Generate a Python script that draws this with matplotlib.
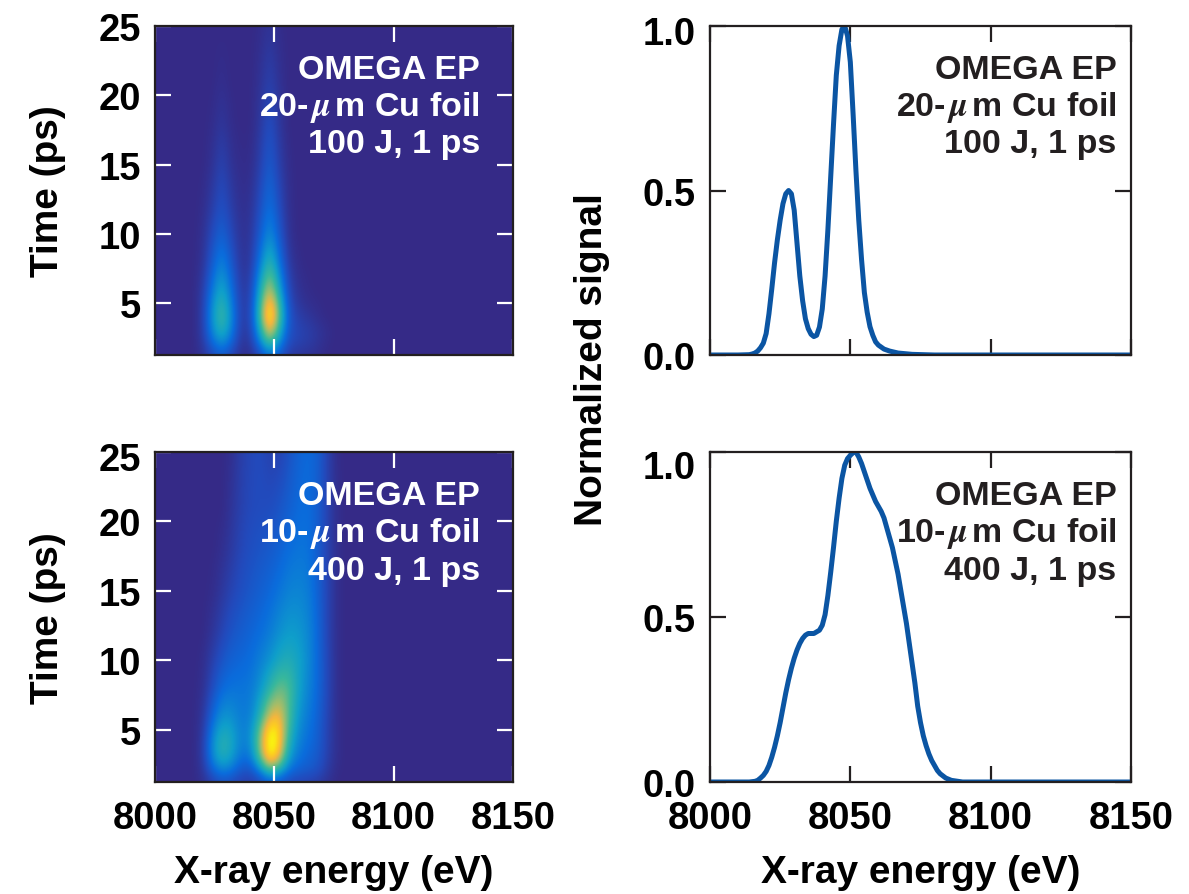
import matplotlib
matplotlib.use("Agg")
import matplotlib.pyplot as plt
import numpy as np
from matplotlib.colors import LinearSegmentedColormap
from matplotlib.transforms import ScaledTranslation

plt.rcParams["font.family"] = ["Liberation Sans", "DejaVu Sans"]
plt.rcParams["font.weight"] = "bold"
plt.rcParams["mathtext.fontset"] = "stix"

FIG_W, FIG_H = 1189, 895

times = [1.25, 2, 3, 4, 5, 6, 8, 10, 12, 15, 18, 21, 25]
energies = [8016, 8020, 8024, 8028, 8032, 8036, 8040, 8044, 8048, 8052, 8056, 8060, 8064, 8068, 8072, 8076, 8080]

map_20um = [
    [0, .03, .11, .18, .10, .02, .02, .11, .25, .16, .06, .04, .03, .02, 0, 0, 0],
    [0, .05, .21, .32, .20, .04, .05, .27, .52, .32, .12, .09, .07, .04, .01, 0, 0],
    [0, .07, .32, .48, .30, .06, .08, .42, .82, .47, .16, .10, .08, .05, .02, 0, 0],
    [0, .07, .35, .54, .33, .07, .10, .54, 1.0, .60, .17, .08, .05, .02, 0, 0, 0],
    [0, .07, .33, .50, .30, .07, .09, .50, .90, .54, .14, .05, .02, .01, 0, 0, 0],
    [0, .06, .27, .43, .25, .06, .08, .42, .74, .42, .11, .03, .01, 0, 0, 0, 0],
    [0, .03, .18, .31, .17, .04, .05, .27, .50, .27, .06, .01, 0, 0, 0, 0, 0],
    [0, .02, .12, .21, .11, .03, .04, .18, .34, .18, .03, 0, 0, 0, 0, 0, 0],
    [0, .01, .07, .15, .07, .02, .03, .13, .26, .13, .02, 0, 0, 0, 0, 0, 0],
    [0, 0, .03, .10, .03, .01, .01, .08, .19, .08, .01, 0, 0, 0, 0, 0, 0],
    [0, 0, .01, .05, .01, 0, 0, .05, .14, .05, 0, 0, 0, 0, 0, 0, 0],
    [0, 0, 0, .02, 0, 0, 0, .03, .09, .03, 0, 0, 0, 0, 0, 0, 0],
    [0, 0, 0, 0, 0, 0, 0, .01, .04, .01, 0, 0, 0, 0, 0, 0, 0],
]

map_10um = [
    [0, .02, .08, .14, .12, .08, .07, .10, .18, .15, .11, .09, .08, .06, .03, 0, 0],
    [0, .04, .20, .30, .26, .16, .14, .28, .52, .42, .25, .20, .18, .15, .07, .01, 0],
    [0, .06, .32, .47, .40, .26, .27, .60, .97, .80, .40, .27, .22, .18, .09, .02, 0],
    [0, .06, .34, .50, .44, .30, .33, .68, 1.0, .90, .48, .31, .25, .20, .10, .02, 0],
    [0, .05, .29, .44, .41, .30, .33, .62, .96, .90, .54, .34, .27, .21, .10, .02, 0],
    [0, .04, .22, .36, .35, .29, .30, .48, .76, .82, .58, .37, .29, .22, .11, .02, 0],
    [0, .02, .13, .24, .27, .27, .28, .36, .50, .62, .58, .42, .32, .24, .12, .02, 0],
    [0, .01, .08, .16, .21, .23, .25, .30, .36, .44, .47, .42, .34, .24, .12, .02, 0],
    [0, 0, .04, .10, .16, .19, .22, .25, .29, .35, .39, .38, .33, .24, .11, .02, 0],
    [0, 0, .01, .05, .10, .14, .17, .20, .23, .27, .31, .32, .30, .22, .11, .02, 0],
    [0, 0, 0, .02, .06, .11, .14, .16, .18, .21, .25, .27, .27, .20, .10, .02, 0],
    [0, 0, 0, 0, .04, .09, .12, .13, .13, .16, .20, .24, .25, .20, .10, .02, 0],
    [0, 0, 0, 0, .02, .08, .11, .13, .09, .09, .15, .21, .24, .21, .10, .01, 0],
]

curve_20um_x = [8000, 8010, 8014, 8015, 8016, 8017, 8018, 8019, 8020, 8021, 8022, 8023, 8024, 8025, 8026, 8027,
                8028, 8029, 8030, 8031, 8032, 8033, 8034, 8035, 8036, 8037, 8038, 8039, 8040, 8041, 8042, 8043,
                8044, 8045, 8046, 8047, 8048, 8049, 8050, 8051, 8052, 8053, 8054, 8055, 8056, 8057, 8058, 8059,
                8060, 8062, 8064, 8067, 8072, 8080, 8150]
curve_20um_y = [0, 0, .001, .003, .006, .012, .022, .036, .065, .125, .20, .28, .35, .41, .46, .49,
                .50, .49, .44, .34, .24, .165, .11, .08, .063, .056, .06, .085, .14, .24, .38, .54,
                .70, .85, .94, .99, 1.0, .97, .89, .73, .56, .41, .29, .19, .13, .086, .06, .04,
                .03, .018, .012, .006, .002, 0, 0]

curve_10um_x = [8000, 8014, 8016, 8017, 8018, 8019, 8020, 8021, 8022, 8023, 8024, 8025, 8026, 8027, 8028, 8029,
                8030, 8031, 8032, 8033, 8034, 8035, 8036, 8037, 8038, 8039, 8040, 8041, 8042, 8043, 8044, 8045,
                8046, 8047, 8048, 8049, 8050, 8051, 8052, 8053, 8054, 8055, 8056, 8057, 8058, 8059, 8060, 8061,
                8062, 8063, 8064, 8065, 8066, 8067, 8068, 8069, 8070, 8071, 8072, 8073, 8074, 8075, 8076, 8077,
                8078, 8079, 8080, 8081, 8082, 8084, 8086, 8090, 8150]
curve_10um_y = [0, 0, .002, .005, .012, .02, .032, .05, .075, .105, .14, .18, .225, .27, .31, .345,
                .375, .40, .42, .435, .445, .45, .45, .45, .455, .46, .475, .507, .565, .635, .71, .79,
                .86, .92, .96, .98, .99, .998, 1.0, .985, .965, .94, .915, .89, .87, .85, .835, .82,
                .80, .77, .74, .71, .67, .63, .58, .53, .48, .42, .36, .30, .23, .18, .14, .11,
                .085, .065, .05, .035, .025, .012, .005, 0, 0]

time_ticks = [5, 10, 15, 20, 25]
signal_ticks = [0.0, 0.5, 1.0]
energy_ticks = [8000, 8050, 8100, 8150]

labels_20um = "OMEGA EP\n20-$\\,\\mu\\,$m Cu foil\n100 J, 1 ps"
labels_10um = "OMEGA EP\n10-$\\,\\mu\\,$m Cu foil\n400 J, 1 ps"

parula = LinearSegmentedColormap.from_list("parula_like", [
    (0.0, "#352a87"), (0.12, "#2349bb"), (0.25, "#0a6cdc"), (0.40, "#0f9fca"), (0.55, "#38b89c"),
    (0.70, "#a3bd6a"), (0.80, "#f2b63f"), (0.88, "#fdcf1f"), (0.96, "#f8fa0d"), (1.0, "#f8fa0d")])


def make_axes(left, top, right, bottom):
    return plt.axes([left / FIG_W, 1 - bottom / FIG_H, (right - left) / FIG_W, (bottom - top) / FIG_H])


def fine_map(table):
    # coarse readings onto an even grid for imshow
    table = np.array(table)
    e_grid = np.arange(8000, 8152, 4)
    t_grid = np.arange(0.75, 25.5, 0.5)
    rows = np.array([np.interp(e_grid, energies, r, left=0, right=0) for r in table])
    z = np.array([np.interp(t_grid, times, rows[:, j]) for j in range(len(e_grid))]).T
    z[1:-1] = 0.25 * z[:-2] + 0.5 * z[1:-1] + 0.25 * z[2:]
    return e_grid, t_grid, z / z.max()


def style_axes(ax, color, xlabels):
    ax.set_xlim(8000, 8150)
    ax.set_xticks(energy_ticks)
    ax.tick_params(axis="both", which="major", direction="in", top=True, right=True, length=11.5,
                   width=1.6, color=color, labelsize=27.5)
    ax.tick_params(axis="x", pad=13)
    ax.tick_params(axis="y", pad=10)
    if xlabels:
        ax.set_xlabel("X-ray energy (eV)", fontsize=28, fontweight="bold")
        ax.xaxis.set_label_coords(0.5, -72 / 330)
    else:
        ax.set_xticklabels([])
    for s in ax.spines.values():
        s.set_linewidth(1.6)
        s.set_color("#231f20")


def shift_top_label(ax, px):
    lab = ax.get_yticklabels()[-1]
    lab.set_transform(lab.get_transform() + ScaledTranslation(0, -px / 100, ax.figure.dpi_scale_trans))


def heat_panel(box, table, txt, xlabels, top_shift):
    ax = make_axes(*box)
    e_grid, t_grid, z = fine_map(table)
    ax.imshow(z, origin="lower", aspect="auto", cmap=parula, vmin=0, vmax=1, interpolation="bicubic",
              extent=[e_grid[0] - 2, e_grid[-1] + 2, t_grid[0] - 0.25, t_grid[-1] + 0.25])
    ax.set_ylim(1.25, 25)
    ax.set_yticks(time_ticks)
    style_axes(ax, "white", xlabels)
    shift_top_label(ax, top_shift)
    ax.set_ylabel("Time (ps)", fontsize=28, fontweight="bold")
    ax.yaxis.set_label_coords(-0.248, 0.5)
    ax.text(0.908, 0.915, txt, transform=ax.transAxes, ha="right", va="top", color="white", fontsize=24.5,
            fontweight="bold", linespacing=1.17)
    return ax


def line_panel(box, x, y, txt, xlabels, top_shift):
    ax = make_axes(*box)
    ax.plot(x, y, color="#0b55a3", linewidth=3.6)
    ax.set_ylim(0, 1.0)
    ax.set_yticks(signal_ticks)
    ax.set_yticklabels(["0.0", "0.5", "1.0"])
    style_axes(ax, "#231f20", xlabels)
    shift_top_label(ax, top_shift)
    ax.text(0.965, 0.915, txt, transform=ax.transAxes, ha="right", va="top", color="#231f20", fontsize=24.5,
            fontweight="bold", linespacing=1.17)
    return ax


fig = plt.figure(figsize=(FIG_W / 100, FIG_H / 100), dpi=100, facecolor="white")

heat_panel((155, 27, 513, 356), map_20um, labels_20um, False, 0)
heat_panel((155, 453, 513, 783), map_10um, labels_10um, True, 4)
line_panel((710, 27, 1131, 356), curve_20um_x, curve_20um_y, labels_20um, False, 4)
line_panel((710, 453, 1131, 783), curve_10um_x, curve_10um_y, labels_10um, True, 12)

fig.text(592 / FIG_W, 1 - 360 / FIG_H, "Normalized signal", rotation=90, ha="center", va="center",
         fontsize=28, fontweight="bold")

plt.savefig("out.png", dpi=100)
